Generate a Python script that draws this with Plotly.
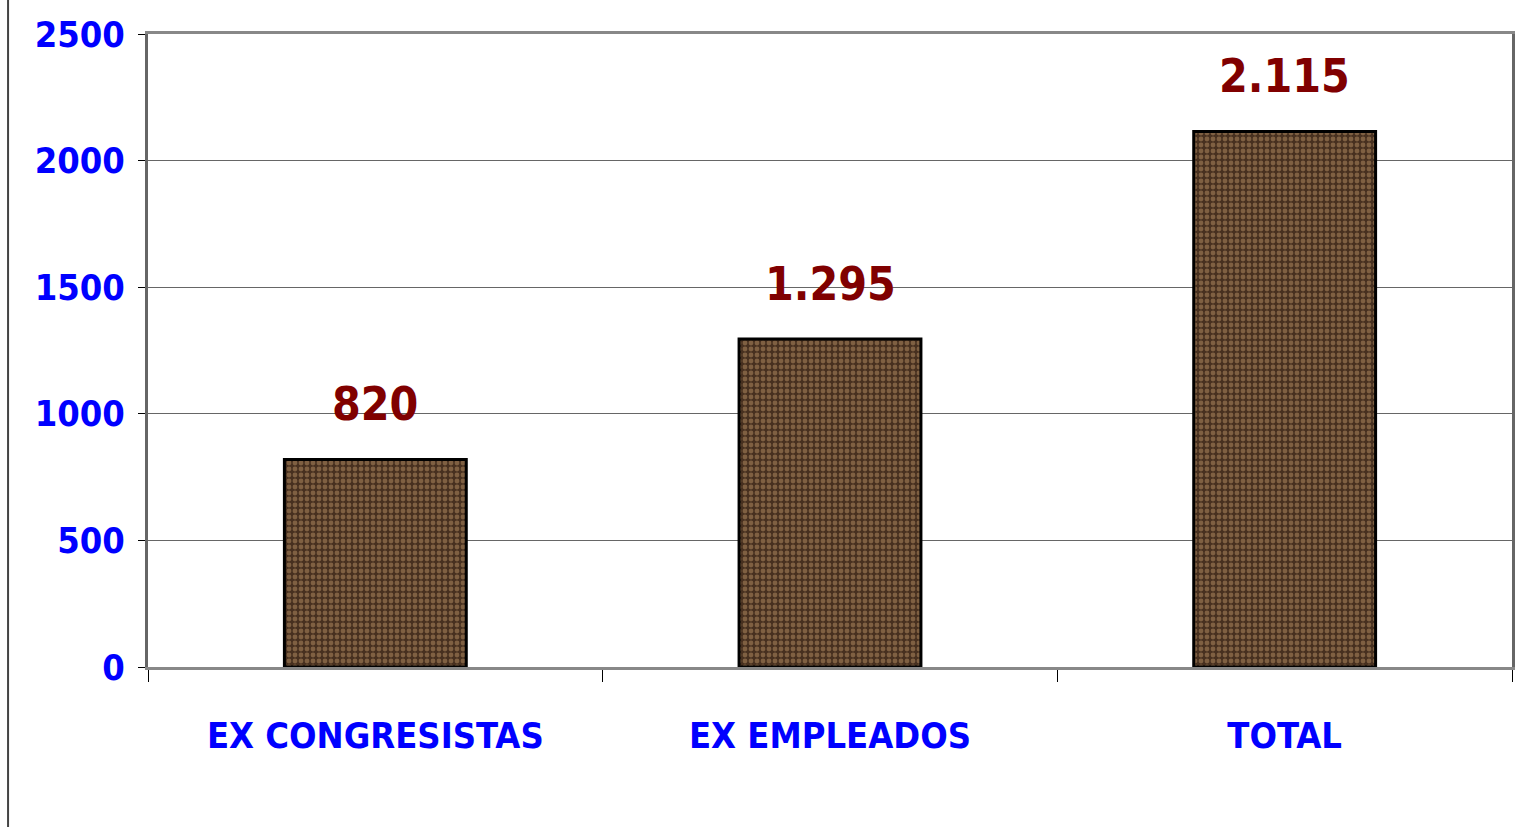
import plotly.graph_objects as go

categories = ["EX CONGRESISTAS", "EX EMPLEADOS", "TOTAL"]
values = [820, 1295, 2115]
value_labels = [f"{v:,}".replace(",", ".") for v in values]
y_ticks = [0, 500, 1000, 1500, 2000, 2500]

FONT = "DejaVu Sans Condensed"

fig = go.Figure()
fig.add_trace(go.Bar(
    x=categories,
    y=values,
    width=0.4,
    marker=dict(
        color="#4a2e1c",
        line=dict(color="black", width=3),
        pattern=dict(shape=".", fgcolor="#7f6042", bgcolor="#47301f",
                     size=6, solidity=0.5, fillmode="replace"),
    ),
    hoverinfo="skip",
))

for c, v, t in zip(categories, values, value_labels):
    fig.add_annotation(
        x=c, y=v, text=f"<b>{t}</b>", showarrow=False,
        yanchor="bottom", yshift=26,
        font=dict(family=FONT, size=46, color="#800000"),
    )

fig.add_shape(type="line", xref="paper", yref="paper",
              x0=-0.1026, x1=-0.1026, y0=-0.3, y1=1.1,
              line=dict(color="#444444", width=2))

fig.update_layout(
    width=1517, height=827,
    margin=dict(l=148, r=5, t=34, b=160),
    paper_bgcolor="white", plot_bgcolor="white",
    showlegend=False,
    xaxis=dict(
        type="category",
        tickson="boundaries", ticks="outside", ticklen=12, tickcolor="black",
        showline=True, linecolor="#888888", linewidth=3, mirror=True,
        showgrid=False,
        tickfont=dict(family=FONT, size=36, color="#0000FF"),
        ticklabelstandoff=35,
        tickvals=categories,
        ticktext=[f"<b>{c}</b>" for c in categories],
        automargin=False,
    ),
    yaxis=dict(
        range=[0, 2500],
        tickvals=y_ticks,
        ticktext=[f"<b>{t}</b>" for t in y_ticks],
        ticks="outside", ticklen=7, tickcolor="black",
        showline=True, linecolor="#666666", linewidth=3, mirror=True,
        showgrid=True, gridcolor="#666666", gridwidth=1,
        zeroline=False,
        tickfont=dict(family=FONT, size=36, color="#0000FF"),
        ticklabelstandoff=6,
        automargin=False,
    ),
)

fig.write_html(
    "out.html",
    config={"displayModeBar": False},
    post_script="document.body.style.margin='0';document.body.style.overflow='hidden';",
)
